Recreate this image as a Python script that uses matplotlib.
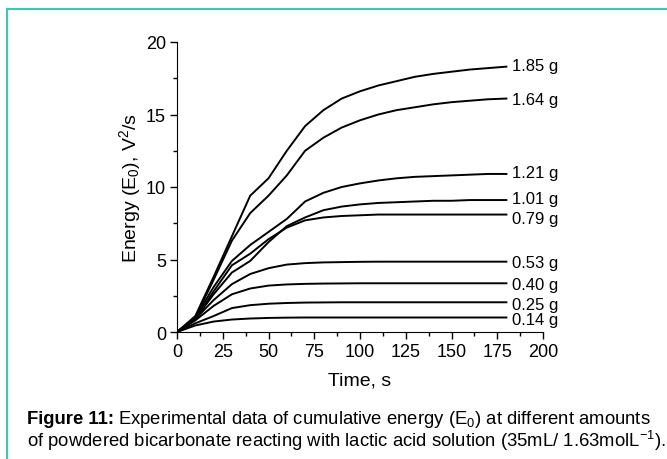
import numpy as np
import matplotlib
matplotlib.use("Agg")
import matplotlib.pyplot as plt
from matplotlib.ticker import MultipleLocator

plt.rcParams['font.family'] = ['Liberation Sans', 'DejaVu Sans']
plt.rcParams['mathtext.fontset'] = 'custom'
plt.rcParams['mathtext.rm'] = 'Liberation Sans'
plt.rcParams['mathtext.it'] = 'Liberation Sans:italic'
plt.rcParams['mathtext.bf'] = 'Liberation Sans:bold'

# time axis (s) and cumulative energy per bicarbonate mass
time_s = [0, 10, 20, 30, 40, 50, 60, 70, 80, 90, 100, 110, 120, 130, 140, 150, 160, 170, 180]

e_185 = [0, 1.1, 3.8, 6.6, 9.4, 10.6, 12.5, 14.2, 15.3, 16.1, 16.6, 17.0, 17.3, 17.6, 17.8, 17.95, 18.1, 18.2, 18.3]
e_164 = [0, 1.0, 3.6, 6.3, 8.2, 9.4, 10.8, 12.5, 13.4, 14.1, 14.6, 15.0, 15.3, 15.5, 15.7, 15.85, 15.95, 16.05, 16.1]
e_121 = [0, 1.0, 3.1, 4.9, 6.0, 6.9, 7.8, 9.0, 9.6, 10.0, 10.25, 10.45, 10.6, 10.7, 10.75, 10.8, 10.85, 10.9, 10.9]
e_101 = [0, 0.9, 2.6, 4.1, 4.9, 6.2, 7.3, 7.9, 8.4, 8.65, 8.8, 8.9, 8.95, 9.0, 9.05, 9.05, 9.1, 9.1, 9.1]
e_079 = [0, 0.9, 2.8, 4.6, 5.4, 6.4, 7.2, 7.7, 7.9, 8.0, 8.05, 8.1, 8.1, 8.1, 8.1, 8.1, 8.1, 8.1, 8.1]
e_053 = [0, 0.9, 2.2, 3.3, 4.0, 4.4, 4.65, 4.75, 4.8, 4.82, 4.84, 4.85, 4.85, 4.85, 4.85, 4.85, 4.85, 4.85, 4.85]
e_040 = [0, 0.8, 1.8, 2.6, 3.0, 3.2, 3.28, 3.32, 3.34, 3.35, 3.36, 3.36, 3.36, 3.36, 3.36, 3.36, 3.36, 3.36, 3.36]
e_025 = [0, 0.6, 1.1, 1.65, 1.85, 1.95, 2.0, 2.03, 2.04, 2.05, 2.05, 2.05, 2.05, 2.05, 2.05, 2.05, 2.05, 2.05, 2.05]
e_014 = [0, 0.45, 0.72, 0.86, 0.93, 0.97, 0.99, 1.0, 1.0, 1.0, 1.0, 1.0, 1.0, 1.0, 1.0, 1.0, 1.0, 1.0, 1.0]

series = [e_185, e_164, e_121, e_101, e_079, e_053, e_040, e_025, e_014]
labels = ["1.85 g", "1.64 g", "1.21 g", "1.01 g", "0.79 g", "0.53 g", "0.40 g", "0.25 g", "0.14 g"]
label_y = [18.4, 16.0, 11.0, 9.2, 7.8, 4.8, 3.26, 1.93, 0.85]

fig = plt.figure(figsize=(6.67, 4.6), dpi=100)
ax = fig.add_axes([177/667, 1 - 333/460, 366/667, 290/460])

for vals in series:
    ax.plot(time_s, vals, color='black', lw=1.4)

for lab, ly in zip(labels, label_y):
    ax.text(183, ly, lab, fontsize=12, va='center', ha='left')

ax.set_xlim(0, 200)
ax.set_ylim(0, 20)
ax.xaxis.set_major_locator(MultipleLocator(25))
ax.xaxis.set_minor_locator(MultipleLocator(12.5))
ax.yaxis.set_major_locator(MultipleLocator(5))
ax.yaxis.set_minor_locator(MultipleLocator(2.5))
ax.spines['top'].set_visible(False)
ax.spines['right'].set_visible(False)
ax.tick_params(which='major', direction='out', length=5, width=1, labelsize=13, pad=3)
ax.tick_params(which='minor', direction='out', length=3, width=1)

ax.set_xlabel("Time, s", fontsize=14, labelpad=8)
ax.set_ylabel("Energy (E$_0$), V$^2$/s", fontsize=14, labelpad=2)

# caption: bold lead-in, then regular text right after it
cap_size = 13.3
renderer = fig.canvas.get_renderer()
lead = fig.text(27/667, 1 - 424/460, "Figure 11:", fontsize=cap_size,
                fontweight='bold', ha='left', va='baseline')
bb = lead.get_window_extent(renderer=renderer)
fig.text((bb.x1 + 4)/667, 1 - 424/460,
         "Experimental data of cumulative energy (E$_0$) at different amounts",
         fontsize=cap_size, ha='left', va='baseline')
fig.text(27/667, 1 - 447/460,
         "of powdered bicarbonate reacting with lactic acid solution (35mL/ 1.63molL$^{-1}$).",
         fontsize=cap_size, ha='left', va='baseline')

# teal frame (top and left edges)
teal = '#3fc6b2'
fig.add_artist(plt.Line2D([7/667, 1], [1 - 10/460, 1 - 10/460], color=teal, lw=1.5))
fig.add_artist(plt.Line2D([7/667, 7/667], [0, 1 - 10/460], color=teal, lw=1.5))

fig.savefig("out.png", dpi=100)
